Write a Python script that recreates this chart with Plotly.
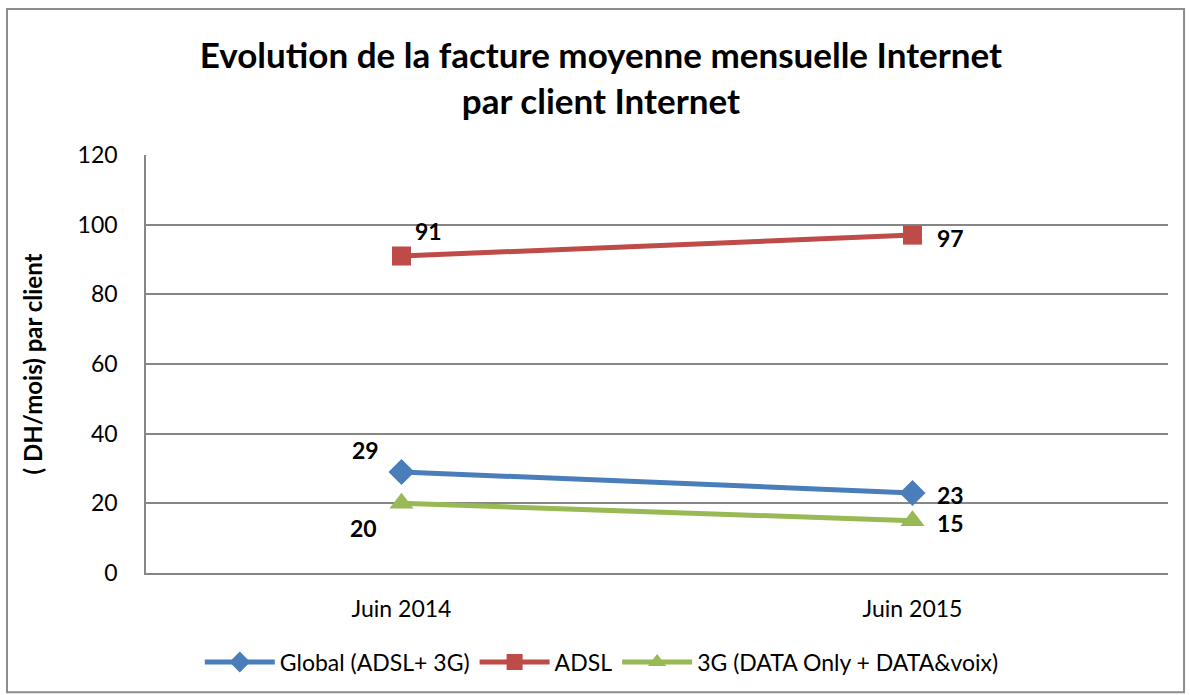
import plotly.graph_objects as go

categories = ["Juin 2014", "Juin 2015"]
global_vals = [29, 23]
adsl_vals = [91, 97]
g3_vals = [20, 15]
series_names = ["Global (ADSL+ 3G)", "ADSL", "3G (DATA Only + DATA&voix)"]

FONT = "Lato, Open Sans, sans-serif"
colors = ["#4A7EBB", "#BE4B48", "#98B954"]
symbols = ["diamond", "square", "triangle-up"]
msizes = [20, 19, 21]
# label offsets (px) per series per point
label_shifts = [[(-36, 22), (38, -2)], [(27, 25), (38, -3)], [(-38, -25), (38, -2)]]

fig = go.Figure()
all_vals = [global_vals, adsl_vals, g3_vals]
for i, vals in enumerate(all_vals):
    fig.add_trace(go.Scatter(
        x=categories, y=vals, name=series_names[i], mode="lines+markers",
        line=dict(color=colors[i], width=5),
        marker=dict(symbol=symbols[i], size=msizes[i], color=colors[i])))
    for j, v in enumerate(vals):
        dx, dy = label_shifts[i][j]
        fig.add_annotation(x=categories[j], y=v, text="<b>%d</b>" % v, showarrow=False,
                           xshift=dx, yshift=dy, font=dict(size=23, color="black", family=FONT))

fig.update_layout(
    width=1190, height=695,
    margin=dict(l=146, r=22, t=155, b=122),
    paper_bgcolor="white", plot_bgcolor="white",
    font=dict(family=FONT, size=22, color="black"),
    title=dict(text="<b>Evolution de la facture moyenne mensuelle Internet<br>par client Internet</b>",
               x=0.505, xanchor="center", xref="container", y=0.902, yanchor="middle",
               font=dict(size=35, family=FONT, color="black")),
    xaxis=dict(type="category", range=[-0.5, 1.5], showgrid=False, showline=True,
               linecolor="#868686", linewidth=1.5, ticks="", tickfont=dict(size=23),
               ticklabelstandoff=15),
    yaxis=dict(range=[0, 120], dtick=20, showgrid=True, gridcolor="#868686", gridwidth=1.5,
               showline=True, linecolor="#868686", linewidth=1.5, zeroline=False,
               tickfont=dict(size=23), ticklabelstandoff=22,
               title=dict(text="<b>( DH/mois) par client</b>", font=dict(size=24), standoff=28)),
    legend=dict(orientation="h", x=0.446, xanchor="center", y=-0.213, yanchor="middle",
                font=dict(size=23), itemwidth=70, tracegroupgap=0),
    showlegend=True,
)
fig.add_shape(type="rect", xref="paper", yref="paper", x0=-0.136, x1=1.0157, y0=-0.285, y1=1.349,
              line=dict(color="#8C8C8C", width=2), fillcolor="rgba(0,0,0,0)", layer="below")

fig.write_html("out.html", config={"displayModeBar": False},
               post_script="document.body.style.margin='0';document.body.style.overflow='hidden';")
